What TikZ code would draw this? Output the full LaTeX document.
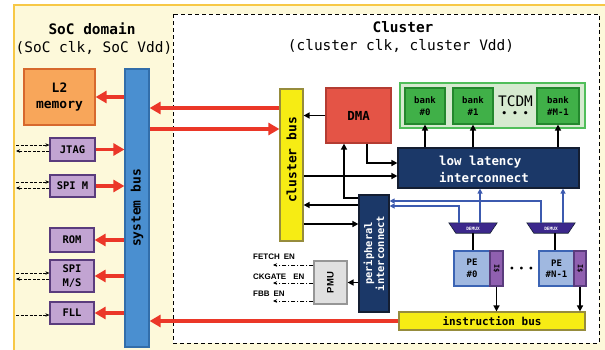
\documentclass[tikz,border=0pt]{standalone}
\usepackage{fontspec}
\newfontfamily\mono{DejaVu Sans Mono}
\newfontfamily\lab{Liberation Sans}
\usetikzlibrary{arrows.meta,calc}
\definecolor{bgc}{RGB}{253,249,218}
\definecolor{bgb}{RGB}{247,200,70}
\definecolor{redc}{RGB}{235,55,40}
\definecolor{l2f}{RGB}{248,166,90}
\definecolor{l2d}{RGB}{215,105,45}
\definecolor{purf}{RGB}{194,164,210}
\definecolor{purd}{RGB}{90,60,125}
\definecolor{sysf}{RGB}{74,143,208}
\definecolor{sysd}{RGB}{50,110,170}
\definecolor{yelf}{RGB}{246,236,20}
\definecolor{yeld}{RGB}{150,140,60}
\definecolor{dmaf}{RGB}{228,84,70}
\definecolor{dmad}{RGB}{180,60,50}
\definecolor{tcf}{RGB}{214,234,208}
\definecolor{tcd}{RGB}{80,190,90}
\definecolor{bkf}{RGB}{64,176,72}
\definecolor{bkd}{RGB}{35,135,45}
\definecolor{navf}{RGB}{27,56,104}
\definecolor{navd}{RGB}{20,30,50}
\definecolor{dmxf}{RGB}{60,40,140}
\definecolor{pef}{RGB}{160,184,224}
\definecolor{ped}{RGB}{60,100,180}
\definecolor{icf}{RGB}{144,96,176}
\definecolor{pmuf}{RGB}{224,224,224}
\definecolor{pmud}{RGB}{150,150,150}
\definecolor{bluc}{RGB}{60,90,175}
\begin{document}
\begin{tikzpicture}[x=1bp,y=-1bp,
  font=\mono\bfseries,
  box/.style={inner sep=0pt, align=center, line width=1.2bp},
  purp/.style={box, fill=purf, draw=purd, font=\mono\bfseries\fontsize{10.5}{13.5}\selectfont},
  yel/.style={box, fill=yelf, draw=yeld},
  navy/.style={box, fill=navf, draw=navd, text=white},
  bank/.style={box, fill=bkf, draw=bkd, font=\mono\bfseries\fontsize{9}{11.5}\selectfont},
  pebox/.style={box, fill=pef, draw=ped, font=\mono\bfseries\fontsize{9}{11.5}\selectfont},
  icbox/.style={box, fill=icf, draw=purd, font=\mono\bfseries\fontsize{7}{8}\selectfont},
  redarr/.style={draw=redc, line width=3.6bp, -{Triangle[length=11bp,width=12bp]}},
  blkarr/.style={draw=black, line width=1.8bp, -{Triangle[length=6bp,width=6bp]}},
  bluarr/.style={draw=bluc, line width=1.6bp, -{Triangle[length=5bp,width=5bp]}},
  dsharr/.style={draw=black, line width=0.8bp, dash pattern=on 3bp off 1.5bp, -{Stealth[length=4bp,width=3.5bp]}},
  ddarr/.style={draw=black, line width=0.8bp, dash pattern=on 4bp off 2bp on 1bp off 2bp, -{Stealth[length=4bp,width=3.5bp]}},
  lbl/.style={inner sep=0pt, anchor=west, font=\lab\bfseries\fontsize{8}{9}\selectfont}
]
\useasboundingbox (0,0) rectangle (605,349);
% backgrounds
\draw[fill=bgc, draw=bgb, line width=1.5bp] (14,5) rectangle (620,360);
\draw[fill=white, draw=black, line width=1bp, dash pattern=on 4bp off 3bp] (173,14) rectangle (599,343);

% titles
\node[font=\mono\bfseries\fontsize{14.5}{16}\selectfont] (soct) at (92,29) {SoC domain};
\node[font=\mono\fontsize{14.5}{16}\selectfont] (socs) at (94,48) {(SoC clk, SoC Vdd)};
\node[font=\mono\bfseries\fontsize{14.5}{16}\selectfont] (clt) at (403,27) {Cluster};
\node[font=\mono\fontsize{14.5}{16}\selectfont] (cls) at (401,46) {(cluster clk, cluster Vdd)};

% SoC side
\node[box, fill=l2f, draw=l2d, minimum width=71bp, minimum height=56bp, font=\mono\bfseries\fontsize{13}{17}\selectfont] (l2) at (59.5,97) {L2\\memory};
\node[box, fill=sysf, draw=sysd, minimum width=24bp, minimum height=278bp] (sys) at (137,208) {};
\node[rotate=90, font=\mono\bfseries\fontsize{13}{15}\selectfont] (syst) at (137,208) {system bus};
\node[purp, minimum width=45bp, minimum height=23bp] (jtag) at (72.5,149.5) {JTAG};
\node[purp, minimum width=45bp, minimum height=22bp] (spim) at (72.5,186) {SPI M};
\node[purp, minimum width=44bp, minimum height=24bp] (rom) at (72,240) {ROM};
\node[purp, minimum width=44bp, minimum height=32bp] (spims) at (72,276) {SPI\\M/S};
\node[purp, minimum width=44bp, minimum height=22bp] (fll) at (72,313) {FLL};

% cluster side
\node[yel, minimum width=23bp, minimum height=152bp] (cbus) at (291.5,165) {};
\node[rotate=90, font=\mono\bfseries\fontsize{13}{15}\selectfont] (cbust) at (291.5,160) {cluster bus};
\node[box, fill=dmaf, draw=dmad, minimum width=65bp, minimum height=55bp, font=\mono\bfseries\fontsize{12.5}{15}\selectfont] (dma) at (358.5,115.5) {DMA};
\node[box, fill=tcf, draw=tcd, line width=1.8bp, minimum width=185bp, minimum height=45bp] (tcdm) at (492.5,105.5) {};
\node[bank, minimum width=40bp, minimum height=36bp] (b0) at (425,106) {bank\\\#0};
\node[bank, minimum width=40bp, minimum height=36bp] (b1) at (473,106) {bank\\\#1};
\node[bank, minimum width=42bp, minimum height=36bp] (bm) at (558,106) {bank\\\#M-1};
\node[inner sep=0pt, font=\mono\fontsize{14.5}{16}\selectfont] (tct) at (515.5,101) {TCDM};
\node[inner sep=0pt, font=\mono\bfseries\fontsize{9}{10}\selectfont] (tcd) at (515,114.5) {• • •};
\node[navy, minimum width=181bp, minimum height=40bp] (lli) at (488.5,168) {};
\node[align=left, text=white, font=\mono\bfseries\fontsize{12.5}{17}\selectfont] (llit) at (484,169.5) {low latency\\interconnect};
\node[navy, minimum width=30bp, minimum height=117bp] (pi) at (374,253.5) {};
\node[rotate=90, text=white, align=center, font=\mono\bfseries\fontsize{10.5}{12}\selectfont] (pit) at (374,253.5) {peripheral\\interconnect};

% demux
\node[inner sep=0pt, minimum width=48bp, minimum height=10bp] (dm0) at (473,228) {};
\node[inner sep=0pt, minimum width=48bp, minimum height=10bp] (dmN) at (551,228) {};
\draw[fill=dmxf, draw=navd, line width=0.6bp] (dm0.north west) -- (dm0.north east) -- ($(dm0.south east)+(-7,0)$) -- ($(dm0.south west)+(7,0)$) -- cycle;
\draw[fill=dmxf, draw=navd, line width=0.6bp] (dmN.north west) -- (dmN.north east) -- ($(dmN.south east)+(-7,0)$) -- ($(dmN.south west)+(7,0)$) -- cycle;
\node[text=white, font=\mono\bfseries\fontsize{4.5}{5}\selectfont] (dm0t) at (473,228.5) {DEMUX};
\node[text=white, font=\mono\bfseries\fontsize{4.5}{5}\selectfont] (dmNt) at (551,228.5) {DEMUX};

% PEs
\node[pebox, minimum width=36bp, minimum height=35bp] (pe0) at (472,268.5) {PE\\\#0};
\node[icbox, minimum width=13bp, minimum height=35bp] (ic0) at (496.5,268.5) {};
\node[rotate=-90, font=\mono\bfseries\fontsize{7}{8}\selectfont] (ic0t) at (496.5,268.5) {I\$};
\node[pebox, minimum width=35bp, minimum height=35bp] (peN) at (556.5,268.5) {PE\\\#N-1};
\node[icbox, minimum width=12bp, minimum height=35bp] (icN) at (580,268.5) {};
\node[rotate=-90, font=\mono\bfseries\fontsize{7}{8}\selectfont] (icNt) at (580,268.5) {I\$};
\node[font=\mono\bfseries\fontsize{8}{9}\selectfont] (ped) at (521.5,269.5) {• • •};
\node[yel, minimum width=186bp, minimum height=18bp, font=\mono\bfseries\fontsize{11}{13}\selectfont] (ibus) at (492,321) {instruction bus};

% PMU
\node[box, fill=pmuf, draw=pmud, minimum width=33bp, minimum height=43bp] (pmu) at (330.5,282.5) {};
\node[rotate=90, font=\lab\bfseries\fontsize{9.5}{10}\selectfont] (pmut) at (330.5,282.5) {PMU};
\node[lbl] (lf) at (253,257) {FETCH\hspace{4bp}EN};
\node[lbl] (lc) at (253,276.5) {CKGATE\hspace{7bp}EN};
\node[lbl] (lb) at (253,294) {FBB\hspace{4bp}EN};

% red arrows
\draw[redarr] (sys.west |- l2.east) -- (l2.east);
\draw[redarr] (jtag.east) -- (jtag.east -| sys.west);
\draw[redarr] (spim.east) -- (spim.east -| sys.west);
\draw[redarr] (sys.west |- rom.east) -- (rom.east);
\draw[redarr] (sys.west |- spims.east) -- (spims.east);
\draw[redarr] (sys.west |- fll.east) -- (fll.east);
\draw[redarr] (cbus.west |- 0,108) -- (sys.east |- 0,108);
\draw[redarr] (sys.east |- 0,129) -- (cbus.west |- 0,129);
\draw[redarr] (ibus.west) -- (ibus.west -| sys.east);

% black arrows
\draw[blkarr] (dma.west) -- (dma.west -| cbus.east);
\draw[blkarr] (dma.south -| 367,0) -- (367,163) -- (lli.west |- 0,163);
\draw[blkarr] (cbus.east |- 0,176) -- (lli.west |- 0,176);
\draw[blkarr] (pi.west |- 0,198) -- (344,198) -- (dma.south -| 344,0);
\draw[blkarr] (pi.west |- 0,205) -- (cbus.east |- 0,205);
\draw[blkarr] (cbus.east |- 0,224) -- (pi.west |- 0,224);
\draw[blkarr] (pi.west |- pmu.east) -- (pmu.east);
\draw[blkarr] (lli.north -| b0.south) -- (b0.south);
\draw[blkarr] (lli.north -| b1.south) -- (b1.south);
\draw[blkarr] (lli.north -| bm.south) -- (bm.south);
\draw[draw=black, line width=1.8bp] (dm0.south) -- (dm0.south |- pe0.north);
\draw[draw=black, line width=1.8bp] (dmN.south -| 555,0) -- (pe0.north -| 555,0);
\draw[blkarr] (ic0.south) -- (ic0.south |- ibus.north);
\draw[blkarr] (icN.south) -- (icN.south |- ibus.north);

% blue arrows
\draw[bluarr] (dm0.north -| 459,0) -- (459,206) -- (pi.east |- 0,206);
\draw[bluarr] (dmN.north -| 541,0) -- (541,201) -- (pi.east |- 0,201);
\draw[bluarr] (dm0.north -| 480,0) -- (lli.south -| 480,0);
\draw[bluarr] (dmN.north -| 563,0) -- (lli.south -| 563,0);

% dashed I/O lines
\draw[dsharr] (16,145) -- (jtag.west |- 0,145);
\draw[dsharr] (jtag.west |- 0,151) -- (16,151);
\draw[dsharr] (16,182) -- (spim.west |- 0,182);
\draw[dsharr] (spim.west |- 0,188) -- (16,188);
\draw[dsharr] (16,273) -- (spims.west |- 0,273);
\draw[dsharr] (spims.west |- 0,279) -- (16,279);
\draw[dsharr] (16,315) -- (fll.west |- 0,315);

% PMU outputs
\draw[ddarr] (pmu.west |- 0,265) -- (273,265);
\draw[ddarr] (pmu.west |- 0,283) -- (273,283);
\draw[ddarr] (pmu.west |- 0,301) -- (273,301);
\end{tikzpicture}
\end{document}
